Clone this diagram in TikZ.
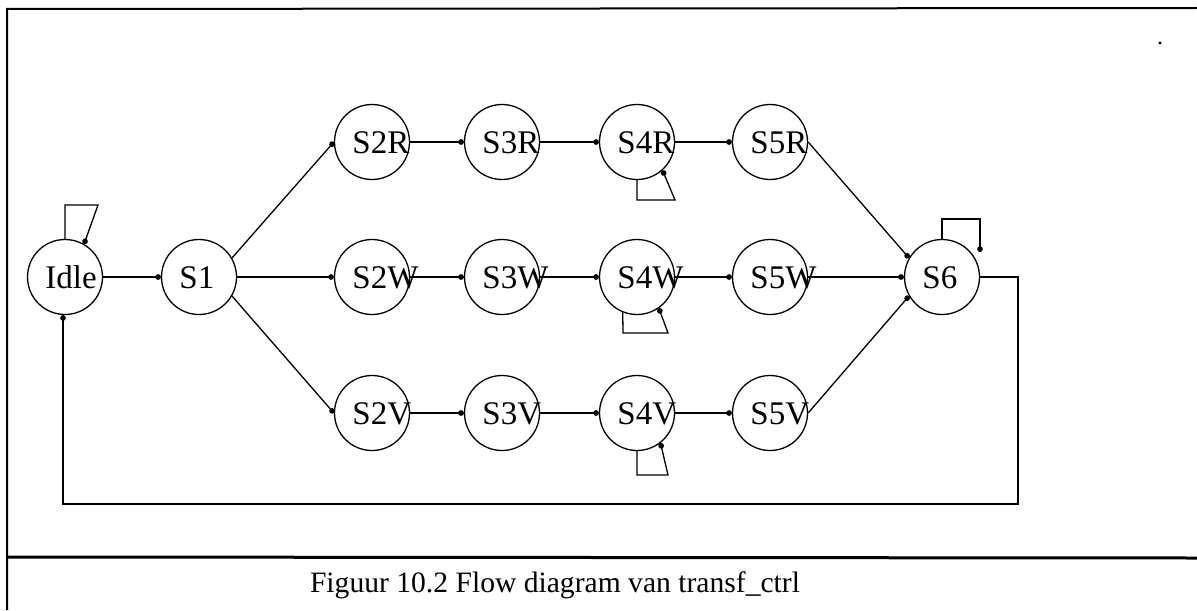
\documentclass[tikz,border=0pt]{standalone}
\usepackage{fontspec}
\setmainfont{Liberation Serif}
\usetikzlibrary{arrows.meta}

\tikzset{
  st/.style={circle, draw, line width=0.65pt, minimum size=37.5pt, inner sep=0pt},
  lbl/.style={anchor=base west, inner sep=0pt, font=\fontsize{16.5}{19}\selectfont},
  tr/.style={line width=0.65pt, -{Circle[length=2.8pt]}},
  frame/.style={line width=1pt},
}

% state circle with its name set from the left side of the circle
\newcommand{\fsmstate}[4]{%
  \node[st] (#1) at (#2,#3) {};
  \node[lbl] (#1-t) at (#2-20,#3+11) {#4};
}

\begin{document}
\begin{tikzpicture}[x=0.5pt, y=-0.5pt]
  \useasboundingbox (0,0) rectangle (1197,610);

  % frame and caption rule
  \draw[frame] (7,610) -- (7,9) -- (1197,8);
  \draw[line width=1.5pt] (7,557) -- (1197,558);
  \fill (1160,43) circle (0.8pt);

  % states
  \fsmstate{idle}{65}{277}{Idle}
  \fsmstate{s1}{199}{277}{S1}
  \fsmstate{s2r}{372}{142}{S2R}
  \fsmstate{s3r}{502}{142}{S3R}
  \fsmstate{s4r}{637}{142}{S4R}
  \fsmstate{s5r}{770}{142}{S5R}
  \fsmstate{s2w}{372}{277}{S2W}
  \fsmstate{s3w}{502}{277}{S3W}
  \fsmstate{s4w}{637}{277}{S4W}
  \fsmstate{s5w}{770}{277}{S5W}
  \fsmstate{s2v}{372}{413}{S2V}
  \fsmstate{s3v}{502}{413}{S3V}
  \fsmstate{s4v}{637}{413}{S4V}
  \fsmstate{s5v}{770}{413}{S5V}
  \fsmstate{s6}{942}{277}{S6}

  % forward transitions
  \draw[tr] (idle) -- (s1);
  \draw[tr] (s1.30) -- (s2r.west);
  \draw[tr] (s1) -- (s2w);
  \draw[tr] (s1.-30) -- (s2v.west);
  \draw[tr] (s2r) -- (s3r);
  \draw[tr] (s3r) -- (s4r);
  \draw[tr] (s4r) -- (s5r);
  \draw[tr] (s2w) -- (s3w);
  \draw[tr] (s3w) -- (s4w);
  \draw[tr] (s4w) -- (s5w);
  \draw[tr] (s2v) -- (s3v);
  \draw[tr] (s3v) -- (s4v);
  \draw[tr] (s4v) -- (s5v);
  \draw[tr] (s5r.east) -- (s6.150);
  \draw[tr] (s5w) -- (s6);
  \draw[tr] (s5v.east) -- (s6.210);

  % self loops
  \draw[tr] (idle.north) -- (65,205) -- (98,205) -- (idle.60);
  \draw[tr] (s4r.south) -- (637,200) -- (675,200) -- (s4r.-48);
  \draw[tr] (s4w.-112) -- (623,333) -- (668,333) -- (s4w.-55);
  \draw[tr] (s4v.south) -- (637,475) -- (668,475) -- (s4v.-52);
  \coordinate (s6in) at (980,252);
  \draw[tr] (s6.north) -- (942,219) -- (980,219) -- (s6in);

  % return to Idle
  \coordinate (r1) at (1018,277);
  \coordinate (r2) at (1018,504);
  \coordinate (r3) at (63,504);
  \draw[tr] (s6.east) -- (r1) -- (r2) -- (r3) -- (r3 |- idle.south);

  % caption
  \node[anchor=base, inner sep=0pt, font=\fontsize{14.8}{18}\selectfont] (cap)
    at (555,592) {Figuur 10.2 Flow diagram van transf\_ctrl};
\end{tikzpicture}
\end{document}
